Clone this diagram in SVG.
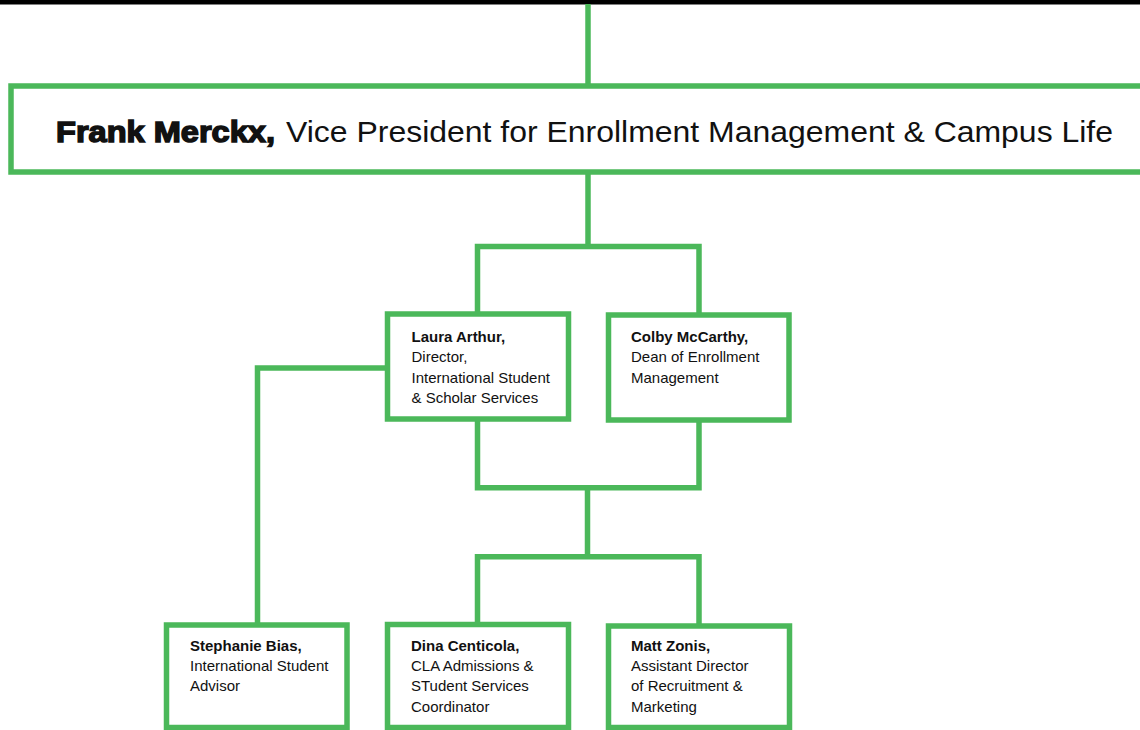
<svg xmlns="http://www.w3.org/2000/svg" width="1140" height="730" viewBox="0 0 1140 730">
<style>
.ln{fill:none;stroke:#4bb85a;stroke-width:5.5;stroke-linejoin:miter}
.bx{fill:#fff;stroke:#4bb85a;stroke-width:5.5}
.t{font-family:"Liberation Sans",Arial,sans-serif;font-size:15px;fill:#111}
.b{font-weight:bold}
.big{font-family:"Liberation Sans",Arial,sans-serif;font-size:30px;fill:#111}
</style>
<rect x="0" y="0" width="1140" height="730" fill="#fff"/>
<rect x="0" y="0" width="1140" height="4.5" fill="#000"/>
<g id="connectors">
<path class="ln" d="M588 4 V86"/>
<path class="ln" d="M588 172 V246.5"/>
<path class="ln" d="M477.5 314 V246.5 H699 V315"/>
<path class="ln" d="M387.5 368 H257.5 V625"/>
<path class="ln" d="M477.5 419 V487.7 H699 V420"/>
<path class="ln" d="M587.5 487.7 V556.7"/>
<path class="ln" d="M477.5 624.5 V556.7 H699 V626"/>
</g>
<g id="frank">
<rect class="bx" x="11" y="86" width="1140" height="86"/>
<text class="big" y="141.5"><tspan x="56" class="b" stroke="#111" stroke-width="1.5" textLength="219" lengthAdjust="spacingAndGlyphs">Frank Merckx,</tspan><tspan x="286" textLength="827" lengthAdjust="spacingAndGlyphs">Vice President for Enrollment Management &amp; Campus Life</tspan></text>
</g>
<g id="laura">
<rect class="bx" x="387.5" y="314" width="181" height="105"/>
<text class="t"><tspan x="411.5" y="342" class="b">Laura Arthur,</tspan><tspan x="411.5" y="362.3">Director,</tspan><tspan x="411.5" y="382.5">International Student</tspan><tspan x="411.5" y="402.7">&amp; Scholar Services</tspan></text>
</g>
<g id="colby">
<rect class="bx" x="608.5" y="315" width="180.5" height="105"/>
<text class="t"><tspan x="631" y="342" class="b">Colby McCarthy,</tspan><tspan x="631" y="362.3">Dean of Enrollment</tspan><tspan x="631" y="382.5">Management</tspan></text>
</g>
<g id="stephanie">
<rect class="bx" x="166.5" y="625" width="180.5" height="102.5"/>
<text class="t"><tspan x="190" y="651" class="b">Stephanie Bias,</tspan><tspan x="190" y="671.2">International Student</tspan><tspan x="190" y="691.4">Advisor</tspan></text>
</g>
<g id="dina">
<rect class="bx" x="387.5" y="624.5" width="181" height="103"/>
<text class="t"><tspan x="411" y="651" class="b">Dina Centicola,</tspan><tspan x="411" y="671.2">CLA Admissions &amp;</tspan><tspan x="411" y="691.4">STudent Services</tspan><tspan x="411" y="711.6">Coordinator</tspan></text>
</g>
<g id="matt">
<rect class="bx" x="608.5" y="626" width="181" height="101.5"/>
<text class="t"><tspan x="631" y="651" class="b">Matt Zonis,</tspan><tspan x="631" y="671.2">Assistant Director</tspan><tspan x="631" y="691.4">of Recruitment &amp;</tspan><tspan x="631" y="711.6">Marketing</tspan></text>
</g>
</svg>
